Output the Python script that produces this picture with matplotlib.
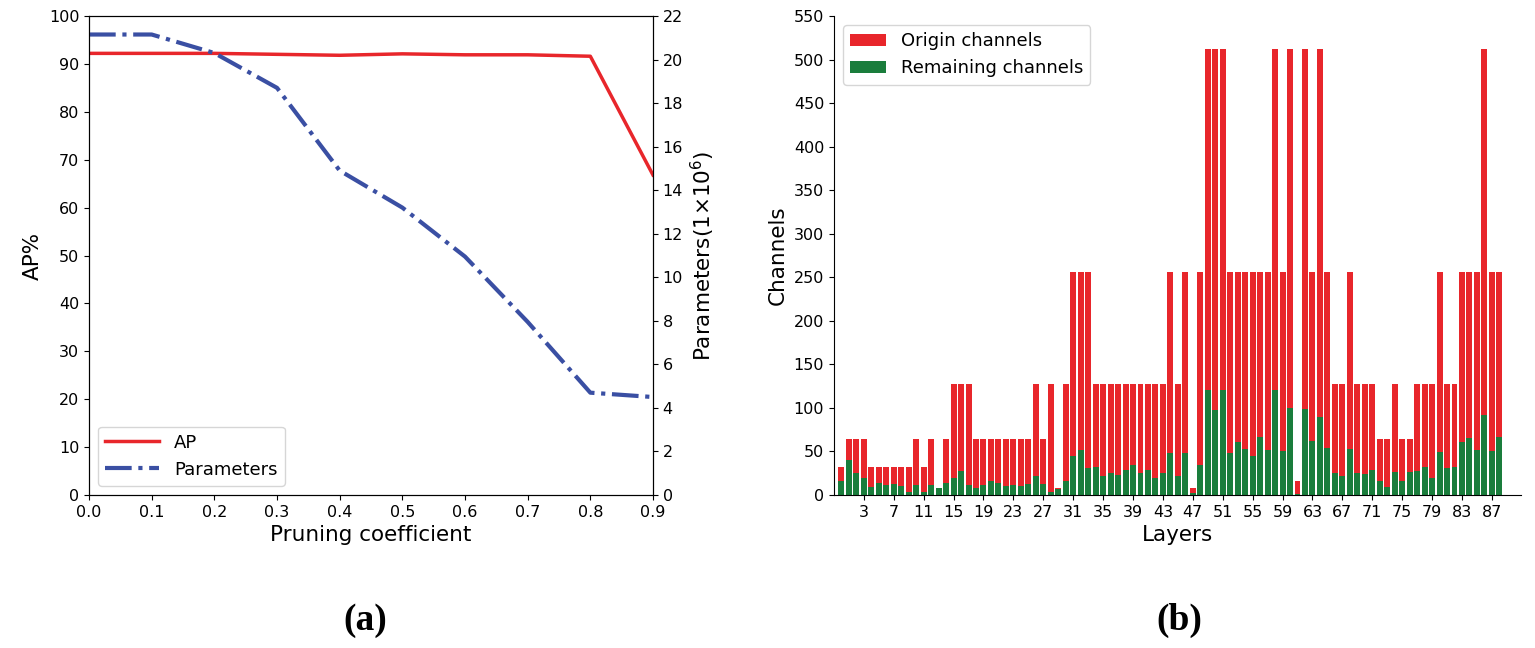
import numpy as np
import matplotlib
matplotlib.use('Agg')
import matplotlib.pyplot as plt

# (a) pruning coefficient sweep
coef = [0.0, 0.1, 0.2, 0.3, 0.4, 0.5, 0.6, 0.7, 0.8, 0.9]
ap = [92.2, 92.2, 92.2, 92.0, 91.8, 92.1, 91.9, 91.9, 91.6, 66.8]
params = [21.15, 21.15, 20.3, 18.7, 14.9, 13.2, 10.95, 7.95, 4.7, 4.5]

# (b) channels per layer
origin = [32, 64, 64, 64, 32, 32, 32, 32, 32, 32,
          64, 32, 64, 8, 64, 128, 128, 128, 64, 64,
          64, 64, 64, 64, 64, 64, 128, 64, 128, 8,
          128, 256, 256, 256, 128, 128, 128, 128, 128, 128,
          128, 128, 128, 128, 256, 128, 256, 8, 256, 512,
          512, 512, 256, 256, 256, 256, 256, 256, 512, 256,
          512, 16, 512, 256, 512, 256, 128, 128, 256, 128,
          128, 128, 64, 64, 128, 64, 64, 128, 128, 128,
          256, 128, 128, 256, 256, 256, 512, 256, 256]
remaining = [16, 40, 25, 19, 9, 14, 11, 13, 10, 4,
             12, 4, 12, 8, 14, 19, 28, 11, 8, 12,
             16, 14, 10, 12, 10, 13, 22, 13, 3, 7,
             16, 45, 52, 31, 32, 22, 25, 23, 29, 35,
             25, 29, 19, 25, 48, 22, 48, 2, 34, 121,
             98, 121, 48, 61, 53, 45, 67, 52, 121, 51,
             100, 1, 99, 62, 89, 54, 25, 22, 53, 25,
             24, 29, 16, 9, 26, 16, 26, 27, 32, 19,
             49, 31, 32, 61, 66, 52, 92, 50, 67]
layers = np.arange(len(origin))

red = '#e8262b'
blue = '#3a4fa3'
green = '#1a7d3c'

fig = plt.figure(figsize=(15.35, 6.48), dpi=100)

ax1 = fig.add_axes([0.058, 0.2361, 0.3674, 0.7392])
l1, = ax1.plot(coef, ap, color=red, lw=2.5, label='AP')
ax1.set_xlim(0, 0.9)
ax1.set_ylim(0, 100)
ax1.set_xticks(coef)
ax1.set_yticks(range(0, 101, 10))
ax1.set_xlabel('Pruning coefficient', fontsize=15.5)
ax1.set_ylabel('AP%', fontsize=15.5)
ax1.tick_params(labelsize=11.5)

ax2 = ax1.twinx()
l2, = ax2.plot(coef, params, color=blue, lw=3, ls='-.', label='Parameters')
ax2.set_ylim(0, 22)
ax2.set_yticks(range(0, 23, 2))
ax2.set_ylabel('Parameters(1$\\times$10$^6$)', fontsize=15.5)
ax2.tick_params(labelsize=11.5)
ax1.legend([l1, l2], ['AP', 'Parameters'], loc='lower left', fontsize=13,
           handlelength=3)

ax3 = fig.add_axes([0.5433, 0.2361, 0.4476, 0.7392])
ax3.bar(layers, origin, width=0.8, color=red, label='Origin channels')
ax3.bar(layers, remaining, width=0.8, color=green, label='Remaining channels')
ax3.set_xlim(-1, 90.9)
ax3.set_ylim(0, 550)
ax3.set_yticks(range(0, 551, 50))
ax3.set_xticks(range(3, 88, 4))
ax3.spines['top'].set_visible(False)
ax3.spines['right'].set_visible(False)
ax3.set_xlabel('Layers', fontsize=15.5)
ax3.set_ylabel('Channels', fontsize=15.5)
ax3.tick_params(labelsize=11.5)
ax3.legend(loc='upper left', fontsize=13)

fig.text(0.238, 0.043, '(a)', family='Liberation Serif', weight='bold',
         fontsize=27, ha='center', va='center')
fig.text(0.768, 0.043, '(b)', family='Liberation Serif', weight='bold',
         fontsize=27, ha='center', va='center')

fig.savefig('out.png', dpi=100)
